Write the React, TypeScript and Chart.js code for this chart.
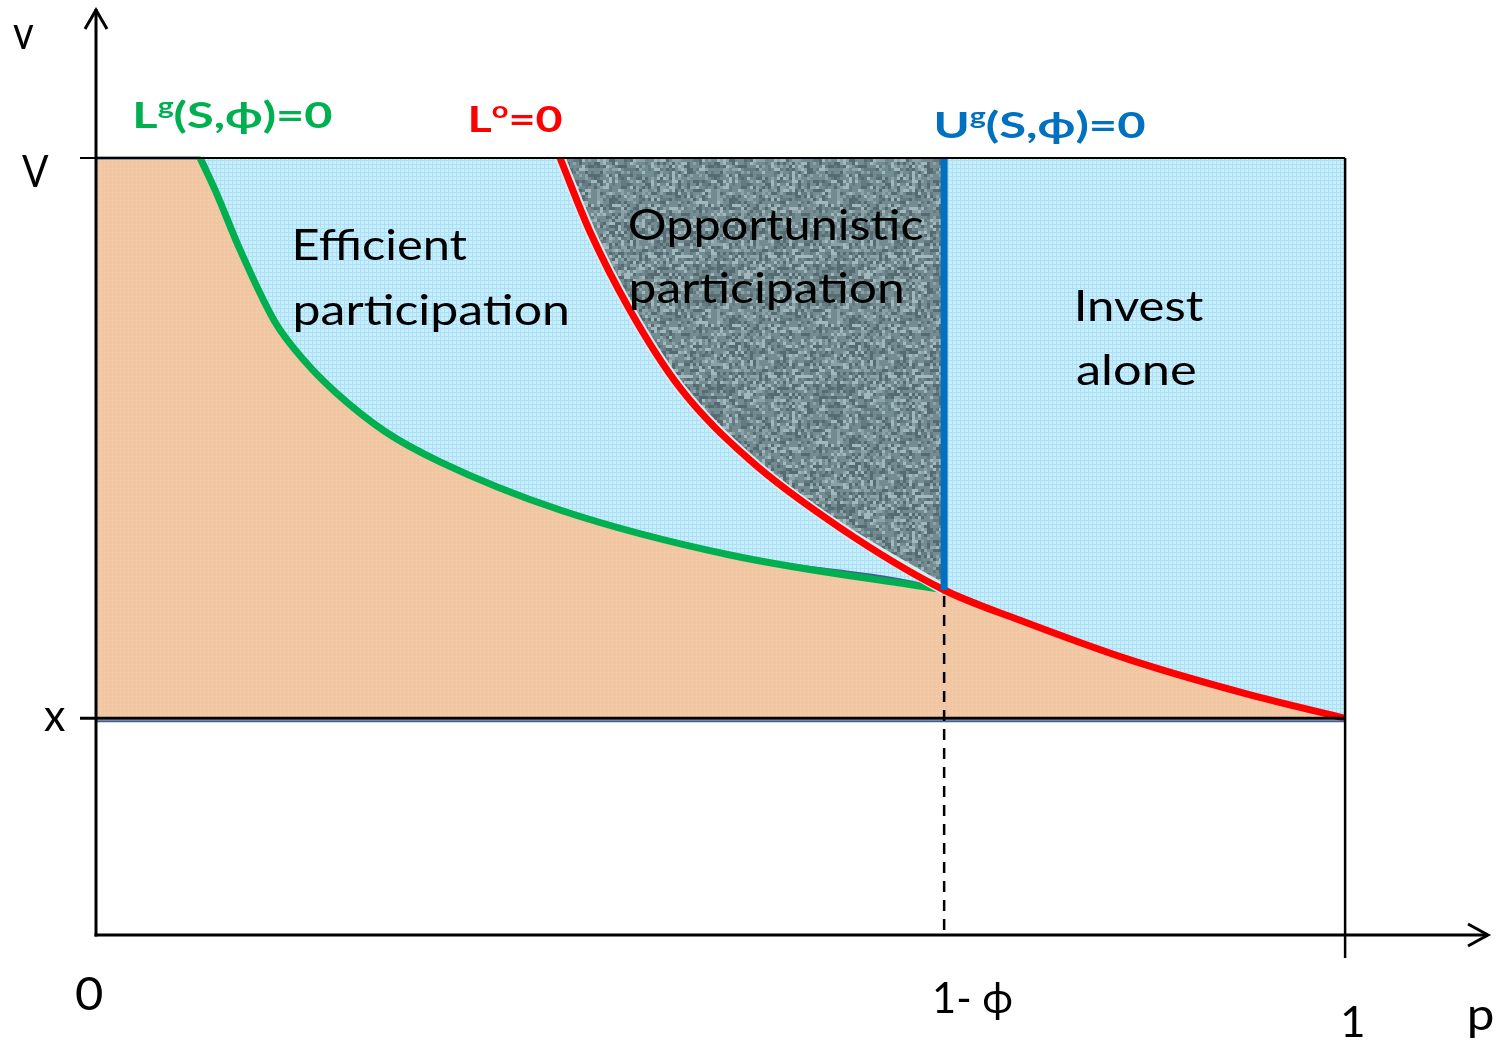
import React, { useEffect, useRef } from 'react';
import { Chart, registerables } from 'chart.js';

Chart.register(...registerables);

// ---- schematic levels (p on x, v on y; v = 1 is "V") ----
const X_LEVEL = 0.279;
const V_LEVEL = 1;
const PHI_P = 0.679;
const PHI_V = 0.444;
const P_MAX = 1.116;
const V_MAX = 1.193;

// Lg(S,phi)=0 curve (green)
const greenP = [0.0833, 0.0953, 0.1153, 0.1433, 0.1674, 0.1914, 0.2314, 0.2754, 0.3715, 0.5076, 0.679];
const greenV = [1.0, 0.959, 0.882, 0.789, 0.738, 0.699, 0.648, 0.609, 0.547, 0.489, 0.444];
// Lo=0 curve (red), above and below the 1-phi point
const redUpperP = [0.3715, 0.3955, 0.4275, 0.4676, 0.5236, 0.5957, 0.679];
const redUpperV = [1.0, 0.905, 0.804, 0.704, 0.611, 0.524, 0.444];
const redLowerP = [0.679, 0.7398, 0.8279, 0.924, 1.0];
const redLowerV = [0.444, 0.405, 0.354, 0.309, 0.279];

const FONT = 'Lato, "Open Sans", sans-serif';

type Seg = { t: string; sup?: boolean };
type Label = { segs: Seg[]; p: number; v: number; w: number; size: number; bold?: boolean; color: string };

const LABELS: Label[] = [
  { segs: [{ t: 'v' }], p: -0.0665, v: 1.1403, w: 21, size: 46, color: '#000' },
  { segs: [{ t: 'V' }], p: -0.0592, v: 0.9627, w: 27, size: 45, color: '#000' },
  { segs: [{ t: 'x' }], p: -0.0416, v: 0.2625, w: 21, size: 45, color: '#000' },
  { segs: [{ t: '0' }], p: -0.016, v: -0.0965, w: 26, size: 47, color: '#000' },
  { segs: [{ t: '1- ϕ' }], p: 0.6717, v: -0.1004, w: 77, size: 42, color: '#000' },
  { segs: [{ t: '1' }], p: 0.9984, v: -0.1313, w: 20, size: 42, color: '#000' },
  { segs: [{ t: 'p' }], p: 1.1001, v: -0.1223, w: 23, size: 45, color: '#000' },
  { segs: [{ t: 'Efficient' }], p: 0.1593, v: 0.8687, w: 172, size: 42, color: '#000' },
  { segs: [{ t: 'participation' }], p: 0.1593, v: 0.7851, w: 272, size: 42, color: '#000' },
  { segs: [{ t: 'Opportunistic' }], p: 0.4276, v: 0.8945, w: 293, size: 43, color: '#000' },
  { segs: [{ t: 'participation' }], p: 0.4283, v: 0.8134, w: 271, size: 42, color: '#000' },
  { segs: [{ t: 'Invest' }], p: 0.7855, v: 0.7902, w: 126, size: 42, color: '#000' },
  { segs: [{ t: 'alone' }], p: 0.7855, v: 0.7079, w: 118, size: 42, color: '#000' },
  { segs: [{ t: 'L' }, { t: 'g', sup: true }, { t: '(S,ϕ)=0' }], p: 0.0312, v: 1.0386, w: 197, size: 37, bold: true, color: '#00b050' },
  { segs: [{ t: 'L' }, { t: 'o', sup: true }, { t: '=0' }], p: 0.2994, v: 1.0335, w: 92, size: 37, bold: true, color: '#ff0000' },
  { segs: [{ t: 'U' }, { t: 'g', sup: true }, { t: '(S,ϕ)=0' }], p: 0.6725, v: 1.0257, w: 209, size: 37, bold: true, color: '#0070c0' },
];

const pts = (xs: number[], ys: number[]) => xs.map((x, i) => ({ x, y: ys[i] }));

function makeTile(w: number, h: number, draw: (c: CanvasRenderingContext2D) => void) {
  const cv = document.createElement('canvas');
  cv.width = w;
  cv.height = h;
  const c = cv.getContext('2d')!;
  draw(c);
  return cv;
}

function patterns(ctx: CanvasRenderingContext2D) {
  const blue = makeTile(4, 4, (c) => {
    c.fillStyle = '#c9eefc';
    c.fillRect(0, 0, 4, 4);
    c.fillStyle = '#abdff5';
    c.fillRect(0, 0, 1, 4);
    c.fillRect(0, 0, 4, 1);
  });
  const orange = makeTile(4, 4, (c) => {
    c.fillStyle = '#f0c7a2';
    c.fillRect(0, 0, 4, 4);
    c.fillStyle = '#f3d2b5';
    c.fillRect(0, 0, 1, 1);
  });
  const gray = makeTile(120, 120, (c) => {
    c.fillStyle = '#738c92';
    c.fillRect(0, 0, 120, 120);
    for (let by = 0; by < 40; by++) {
      for (let bx = 0; bx < 40; bx++) {
        let h = Math.imul(bx + 1, 374761393) ^ Math.imul(by + 7, 668265263);
        h = Math.imul(h ^ (h >>> 13), 1274126177);
        h = (h ^ (h >>> 16)) >>> 0;
        const r = (h % 1000) / 1000;
        let col = '';
        if (r < 0.2) col = '#566b71';
        else if (r < 0.34) col = '#647b81';
        else if (r > 0.86) col = '#a3b8bd';
        else if (r > 0.72) col = '#8ba3a8';
        if (col) {
          c.fillStyle = col;
          c.fillRect(bx * 3, by * 3, 3, 3);
        }
      }
    }
  });
  return {
    blue: ctx.createPattern(blue, 'repeat')!,
    orange: ctx.createPattern(orange, 'repeat')!,
    gray: ctx.createPattern(gray, 'repeat')!,
  };
}

function drawLabel(ctx: CanvasRenderingContext2D, lb: Label, x: number, y: number) {
  const weight = lb.bold ? 'bold ' : '';
  const fonts = lb.segs.map((s) => `${weight}${s.sup ? Math.round(lb.size * 0.62) : lb.size}px ${FONT}`);
  const ms = lb.segs.map((s, i) => {
    ctx.font = fonts[i];
    return ctx.measureText(s.t);
  });
  let ink = ms[0].actualBoundingBoxLeft;
  for (let i = 0; i < ms.length - 1; i++) ink += ms[i].width;
  ink += ms[ms.length - 1].actualBoundingBoxRight;
  const sx = lb.w / ink;
  ctx.save();
  ctx.translate(x, y);
  ctx.scale(sx, 1);
  ctx.fillStyle = lb.color;
  ctx.textBaseline = 'alphabetic';
  ctx.textAlign = 'left';
  let cx = ms[0].actualBoundingBoxLeft;
  lb.segs.forEach((s, i) => {
    ctx.font = fonts[i];
    ctx.fillText(s.t, cx, s.sup ? -lb.size * 0.38 : 0);
    cx += ms[i].width;
  });
  ctx.restore();
}

const decor = {
  id: 'decor',
  afterDatasetsDraw(chart: any) {
    const { ctx, chartArea } = chart;
    const xs = chart.scales.x;
    const ys = chart.scales.y;
    const px = (p: number) => xs.getPixelForValue(p);
    const py = (v: number) => ys.getPixelForValue(v);
    const x0 = px(0);
    const y0 = py(0);
    const x1 = px(1);
    const yV = py(V_LEVEL);
    const yX = py(X_LEVEL);

    ctx.save();
    ctx.lineCap = 'butt';
    const line = (ax: number, ay: number, bx: number, by: number, w: number, col = '#000') => {
      ctx.strokeStyle = col;
      ctx.lineWidth = w;
      ctx.beginPath();
      ctx.moveTo(ax, ay);
      ctx.lineTo(bx, by);
      ctx.stroke();
    };
    // thin blue edge below x line
    line(x0, yX + 3, x1, yX + 3, 2, '#41608f');
    // V and x levels
    line(x0 - 16, yV, x1, yV, 2);
    line(x0 - 16, yX, x1, yX, 3);
    // right border at p = 1
    line(x1, yV, x1, y0 + 23, 2.5);
    // dashed line at 1 - phi
    ctx.setLineDash([11, 8]);
    line(px(PHI_P), py(PHI_V) + 6, px(PHI_P), y0, 2.5);
    ctx.setLineDash([]);
    // axes
    line(x0, y0 + 1.5, x0, chartArea.top + 1, 3);
    line(x0 - 1.5, y0, chartArea.right - 2, y0, 3);
    // arrow heads
    ctx.lineJoin = 'miter';
    ctx.lineWidth = 3;
    ctx.beginPath();
    ctx.moveTo(x0 - 11, chartArea.top + 21);
    ctx.lineTo(x0, chartArea.top + 2);
    ctx.lineTo(x0 + 11, chartArea.top + 21);
    ctx.stroke();
    ctx.beginPath();
    ctx.moveTo(chartArea.right - 22, y0 - 11);
    ctx.lineTo(chartArea.right - 2, y0);
    ctx.lineTo(chartArea.right - 22, y0 + 11);
    ctx.stroke();

    LABELS.forEach((lb) => drawLabel(ctx, lb, px(lb.p), py(lb.v)));
    ctx.restore();
  },
};

export default function App() {
  const ref = useRef<HTMLCanvasElement | null>(null);

  useEffect(() => {
    document.body.style.margin = '0';
    const canvas = ref.current!;
    const ctx = canvas.getContext('2d')!;
    const pat = patterns(ctx);

    const orangePts = [{ x: 0, y: V_LEVEL }, ...pts(greenP, greenV), ...pts(redLowerP, redLowerV).slice(1)];
    const redPts = [...pts(redUpperP, redUpperV), ...pts(redLowerP, redLowerV).slice(1)];

    const chart = new Chart(canvas, {
      type: 'line',
      data: {
        datasets: [
          {
            data: [{ x: PHI_P, y: PHI_V }, { x: PHI_P, y: V_LEVEL }],
            borderColor: '#0070c0',
            borderWidth: 7,
            fill: false,
            order: 3,
          },
          {
            data: redPts,
            borderColor: '#ff0000',
            borderWidth: 7,
            cubicInterpolationMode: 'monotone',
            fill: false,
            order: 4,
          },
          {
            data: pts(redUpperP, redUpperV),
            borderColor: '#d6ebf2',
            borderWidth: 11,
            cubicInterpolationMode: 'monotone',
            fill: false,
            order: 4.5,
          },
          {
            data: pts(greenP, greenV),
            borderColor: '#00b050',
            borderWidth: 7,
            cubicInterpolationMode: 'monotone',
            fill: false,
            order: 5,
          },
          {
            data: pts(redUpperP, redUpperV),
            borderWidth: 0,
            backgroundColor: pat.gray,
            cubicInterpolationMode: 'monotone',
            fill: { value: V_LEVEL },
            order: 8,
          },
          {
            data: orangePts,
            borderColor: '#41608f',
            borderWidth: 3,
            backgroundColor: pat.orange,
            cubicInterpolationMode: 'monotone',
            fill: { value: X_LEVEL },
            order: 9,
          },
          {
            data: [{ x: 0, y: V_LEVEL }, { x: 1, y: V_LEVEL }],
            borderWidth: 0,
            backgroundColor: pat.blue,
            fill: { value: X_LEVEL },
            order: 10,
          },
        ] as any,
      },
      options: {
        animation: false,
        responsive: false,
        maintainAspectRatio: false,
        events: [],
        layout: { padding: { left: 96, right: 11, top: 8, bottom: 106 } },
        elements: { point: { radius: 0, hoverRadius: 0 }, line: { borderCapStyle: 'butt' } },
        plugins: { legend: { display: false }, tooltip: { enabled: false } },
        scales: {
          x: { type: 'linear', min: 0, max: P_MAX, display: false },
          y: { type: 'linear', min: 0, max: V_MAX, display: false },
        },
      },
      plugins: [decor],
    });
    return () => chart.destroy();
  }, []);

  return (
    <div style={{ width: 1501, height: 1041, background: '#fff' }}>
      <canvas ref={ref} width={1501} height={1041} style={{ display: 'block' }} />
    </div>
  );
}
